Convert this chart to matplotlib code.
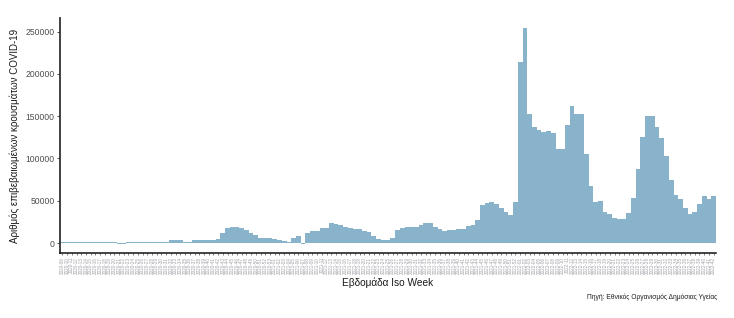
import datetime
import matplotlib
matplotlib.use("Agg")
import matplotlib.pyplot as plt
from matplotlib.ticker import FixedLocator

# ---- data -------------------------------------------------------------
start_year, start_week = 2020, 9
weekly_cases = [
    1000, 1000, 1100, 1100, 1000, 1000, 1000, 1000, 1000,      # 0-8
    1500, 1500, 800, -1200, -600,                               # 9-13
    1000, 1000, 1000, 1000, 1100, 1100, 1100, 1000, 1000,      # 14-22
    3000, 3200, 3200, 1200, 1500, 3300, 3300, 3400, 3400, 3500,  # 23-32
    4800, 12200, 17400, 19300, 18800, 17400, 15400,             # 33-39
    11500, 9500, 6500, 6000, 5500, 5200, 3600, 2700, 1000,      # 40-48
    5500, 8700, -1000, 12200, 14600, 14800, 18100, 18300,       # 49-56
    23300, 22100, 21300, 18500, 17500, 16800, 16600, 14000,     # 57-64
    12800, 8300, 5000, 3800, 3500, 6300, 15400, 17500,          # 65-72
    19300, 19300, 19300, 21300, 23300, 23300, 19300, 16600,     # 73-80
    14600, 15800, 15000, 16200, 17000, 20000, 21300, 27300,     # 81-88
    45000, 47800, 49000, 46200, 41100, 37100, 33200, 49000,     # 89-96
    214000, 254000, 152900, 137800, 133900, 131500, 132700,     # 97-103
    130700, 111000, 111000, 139500, 162300, 152900, 152900,     # 104-110
    105500, 67500, 49000, 49200, 37100, 34000, 30000, 28400,    # 111-118
    28400, 35200, 53700, 87700, 126000, 150100, 150100,         # 119-125
    137800, 124800, 103100, 74700, 57200, 51800, 41100, 34400,  # 126-133
    36700, 46200, 55700, 52100, 55300,                          # 134-138
]
y_ticks = [0, 50000, 100000, 150000, 200000, 250000]
y_label = "Αριθμός επιβεβαιωμένων κρουσμάτων COVID-19"
x_label = "Εβδομάδα Iso Week"
caption = "Πηγή: Εθνικός Οργανισμός Δημόσιας Υγείας"

monday0 = datetime.date.fromisocalendar(start_year, start_week, 1)
week_labels = []
for k in range(len(weekly_cases)):
    yy, ww, _ = (monday0 + datetime.timedelta(weeks=k)).isocalendar()
    week_labels.append(f"{yy}-{ww:02d}")

# ---- figure -----------------------------------------------------------
plt.rcParams["font.family"] = ["Liberation Sans", "DejaVu Sans"]

fig = plt.figure(figsize=(7.34, 3.18), dpi=100)
ax = fig.add_axes([60 / 734, 1 - 253 / 318, 656 / 734, 235 / 318])

positions = list(range(len(weekly_cases)))
ax.bar(positions, weekly_cases, width=1.0, align="edge",
       color="#89b3cb", linewidth=0)

ax.set_xlim(0, len(weekly_cases))
ax.set_ylim(-11800, 266200)

ax.yaxis.set_major_locator(FixedLocator(y_ticks))
ax.set_yticklabels([str(v) for v in y_ticks])
ax.tick_params(axis="y", labelsize=6.2, colors="#333333", length=2.2,
               width=0.6, pad=1.5, labelcolor="#4d4d4d")

ax.set_xticks([p + 0.5 for p in positions])
ax.set_xticklabels(week_labels, rotation=90, fontsize=3.3, color="#a0a0a8")
ax.tick_params(axis="x", length=1.6, width=0.4, pad=1.2, colors="#222222",
               labelcolor="#a0a0a8")

for side in ("top", "right"):
    ax.spines[side].set_visible(False)
ax.spines["left"].set_color("#333333")
ax.spines["left"].set_linewidth(1.3)
ax.spines["bottom"].set_color("#111111")
ax.spines["bottom"].set_linewidth(1.1)

ax.set_ylabel(y_label, fontsize=7, color="#1a1a1a", labelpad=4)

fig.text(388 / 734, 1 - 283 / 318, x_label, ha="center", va="center",
         fontsize=7.3, color="#1a1a1a")
fig.text(717 / 734, 1 - 297 / 318, caption, ha="right", va="center",
         fontsize=4.8, color="#1a1a1a")

fig.savefig("out.png", dpi=100)
